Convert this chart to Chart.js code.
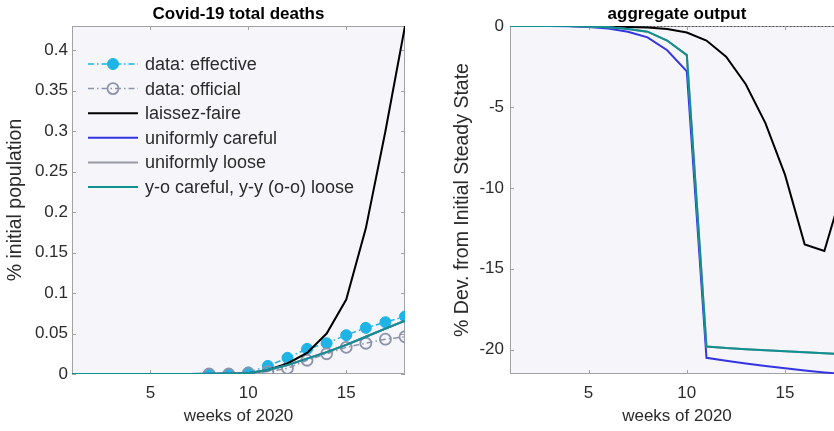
<!DOCTYPE html>
<html>
<head>
<meta charset="utf-8">
<script src="https://cdn.jsdelivr.net/npm/chart.js@4/dist/chart.umd.min.js"></script>
<style>
  html, body { margin: 0; padding: 0; background: #ffffff; overflow: hidden; }
  #wrap { position: relative; width: 834px; height: 431px; overflow: hidden; }
  canvas { position: absolute; top: 0; }
  #deaths { left: 0; }
  #output { left: 420px; }
</style>
</head>
<body>
<div id="wrap">
  <canvas id="deaths" width="420" height="431"></canvas>
  <canvas id="output" width="480" height="431"></canvas>
</div>
<script>
// ---- weeks of 2020 ----
const weeks = [1, 2, 3, 4, 5, 6, 7, 8, 9, 10, 11, 12, 13, 14, 15, 16, 17, 18];
const dataWeeks = [8, 9, 10, 11, 12, 13, 14, 15, 16, 17, 18];

// ---- Covid-19 total deaths, % of initial population ----
const deathsEffective = [0, 0, 0.002, 0.010, 0.020, 0.031, 0.038, 0.048, 0.057, 0.064, 0.071];
const deathsOfficial  = [0, 0, 0.001, 0.003, 0.007, 0.017, 0.025, 0.033, 0.038, 0.043, 0.046];
const deathsLaissezFaire = [0, 0, 0, 0, 0, 0, 0, 0, 0.0003, 0.001, 0.005, 0.013, 0.026, 0.050, 0.092, 0.180, 0.300, 0.430];
const deathsCareful      = [0, 0, 0, 0, 0, 0, 0, 0.0002, 0.0005, 0.001, 0.005, 0.011, 0.019, 0.027, 0.036, 0.046, 0.056, 0.066];
const deathsLoose        = [0, 0, 0, 0, 0, 0, 0, 0.0002, 0.0005, 0.001, 0.005, 0.011, 0.019, 0.027, 0.036, 0.046, 0.056, 0.066];
const deathsYoCareful    = [0, 0, 0, 0, 0, 0, 0, 0.0002, 0.0005, 0.001, 0.005, 0.011, 0.019, 0.027, 0.036, 0.046, 0.056, 0.066];

// ---- aggregate output, % deviation from initial steady state ----
const outputLaissezFaire = [0, 0, 0, 0, -0.01, -0.03, -0.06, -0.1, -0.18, -0.4, -0.9, -1.9, -3.6, -6.0, -9.2, -13.5, -13.9, -9.8];
const outputCareful      = [0, 0, 0, -0.01, -0.06, -0.15, -0.35, -0.7, -1.5, -2.8, -20.5, -20.68, -20.85, -21.0, -21.15, -21.28, -21.4, -21.5];
const outputLoose        = [0, 0, 0, 0, -0.03, -0.08, -0.18, -0.35, -0.9, -1.8, -19.8, -19.9, -19.97, -20.04, -20.1, -20.16, -20.22, -20.28];
const outputYoCareful    = [0, 0, 0, 0, -0.03, -0.08, -0.18, -0.35, -0.9, -1.8, -19.8, -19.9, -19.97, -20.04, -20.1, -20.16, -20.22, -20.28];
const zeroWeeks = [1, 18];
const zeroLine  = [0, 0];

// ---- tick labels ----
const weekTicks = [5, 10, 15];
const deathTicks = [0, 0.05, 0.1, 0.15, 0.2, 0.25, 0.3, 0.35, 0.4];
const outputTicks = [-20, -15, -10, -5, 0];

// ---- styling ----
const FONT = "'Liberation Sans', Arial, Helvetica, sans-serif";
const TEXT = '#2b2b2b';
const C_EFFECTIVE = '#1eb4e6';
const C_OFFICIAL = '#8d93ab';
const C_LAISSEZ = '#000000';
const C_CAREFUL = '#3434e0';
const C_LOOSE = '#9a9aa6';
const C_YO = '#0e9090';
const AXIS = '#a2a2a2';
const PLOT_BG = '#f5f5fa';

const pts = (xs, ys) => xs.map((x, i) => ({ x, y: ys[i] }));

// Plot background, box and inward tick marks (drawn under the data)
const axesBox = {
  id: 'axesBox',
  beforeDatasetsDraw(chart) {
    const { ctx, chartArea: a, scales } = chart;
    ctx.save();
    ctx.fillStyle = PLOT_BG;
    ctx.fillRect(a.left, a.top, a.right - a.left, a.bottom - a.top);
    ctx.strokeStyle = AXIS;
    ctx.lineWidth = 1;
    ctx.strokeRect(a.left + 0.5, a.top + 0.5, a.right - a.left - 1, a.bottom - a.top - 1);
    const len = 4;
    ctx.beginPath();
    scales.x.ticks.forEach(t => {
      const px = Math.round(scales.x.getPixelForValue(t.value)) + 0.5;
      ctx.moveTo(px, a.bottom); ctx.lineTo(px, a.bottom - len);
      ctx.moveTo(px, a.top); ctx.lineTo(px, a.top + len);
    });
    scales.y.ticks.forEach(t => {
      const py = Math.round(scales.y.getPixelForValue(t.value)) + 0.5;
      ctx.moveTo(a.left, py); ctx.lineTo(a.left + len, py);
      ctx.moveTo(a.right, py); ctx.lineTo(a.right - len, py);
    });
    ctx.stroke();
    ctx.restore();
  }
};

// Legend with line + marker samples, inside the upper-left of the plot
const sampleLegend = {
  id: 'sampleLegend',
  afterDatasetsDraw(chart, args, opts) {
    if (!opts.display) return;
    const { ctx, chartArea: a } = chart;
    ctx.save();
    ctx.font = opts.font;
    ctx.textBaseline = 'middle';
    ctx.fillStyle = TEXT;
    let y = a.top + opts.top;
    chart.data.datasets.forEach(ds => {
      if (!ds.label) return;
      const x0 = a.left + opts.left;
      ctx.save();
      ctx.strokeStyle = ds.borderColor;
      ctx.lineWidth = ds.borderWidth;
      ctx.setLineDash(ds.borderDash || []);
      ctx.beginPath();
      ctx.moveTo(x0, y); ctx.lineTo(x0 + opts.sample, y);
      ctx.stroke();
      ctx.setLineDash([]);
      if (ds.pointRadius > 0) {
        ctx.beginPath();
        ctx.arc(x0 + opts.sample / 2, y, ds.pointRadius, 0, Math.PI * 2);
        if (ds.pointBackgroundColor !== 'transparent') {
          ctx.fillStyle = ds.pointBackgroundColor; ctx.fill();
        }
        ctx.strokeStyle = ds.pointBorderColor;
        ctx.lineWidth = ds.pointBorderWidth;
        ctx.stroke();
      }
      ctx.restore();
      ctx.fillText(ds.label, x0 + opts.sample + 7, y + 1);
      y += opts.spacing;
    });
    ctx.restore();
  }
};

function baseOptions(o) {
  return {
    responsive: false,
    animation: false,
    devicePixelRatio: 1,
    layout: { padding: { top: 0, right: o.padRight, bottom: 0, left: 0 } },
    elements: { line: { tension: 0 } },
    plugins: {
      legend: { display: false },
      tooltip: { enabled: false },
      title: {
        display: true, text: o.title, color: '#000', fullSize: false,
        font: { family: FONT, size: 17, weight: 'bold' },
        padding: { top: 4, bottom: 1.6 }
      },
      sampleLegend: o.legend
    },
    scales: {
      x: {
        type: 'linear', min: 1, max: 18,
        grid: { display: false, drawTicks: false },
        border: { display: false },
        afterBuildTicks: s => { s.ticks = weekTicks.map(v => ({ value: v })); },
        afterFit: s => { s.height = 57; },
        ticks: { color: TEXT, padding: 9, font: { family: FONT, size: 17 }, callback: v => String(v) },
        title: { display: true, text: 'weeks of 2020', color: TEXT, font: { family: FONT, size: 17 }, padding: { top: 0, bottom: 4 } }
      },
      y: {
        min: o.yMin, max: o.yMax,
        grid: { display: false, drawTicks: false },
        border: { display: false },
        afterBuildTicks: s => { s.ticks = o.yTicks.map(v => ({ value: v })); },
        afterFit: s => { s.width = o.yWidth; },
        ticks: { color: TEXT, padding: o.tickPad, font: { family: FONT, size: 17 }, callback: v => String(+v.toFixed(2)) },
        title: { display: true, text: o.yTitle, color: TEXT, font: { family: FONT, size: 19.5 }, padding: { top: o.titlePad, bottom: 0 } }
      }
    }
  };
}

new Chart(document.getElementById('deaths'), {
  type: 'line',
  data: {
    datasets: [
      { label: 'data: effective', data: pts(dataWeeks, deathsEffective), borderColor: C_EFFECTIVE, borderWidth: 1.5,
        borderDash: [6, 3, 1.5, 3], pointRadius: 5.5, pointBackgroundColor: C_EFFECTIVE, pointBorderColor: C_EFFECTIVE,
        pointBorderWidth: 1, order: 6 },
      { label: 'data: official', data: pts(dataWeeks, deathsOfficial), borderColor: C_OFFICIAL, borderWidth: 1.5,
        borderDash: [6, 3, 1.5, 3], pointRadius: 5.5, pointBackgroundColor: 'transparent', pointBorderColor: C_OFFICIAL,
        pointBorderWidth: 1.8, order: 5 },
      { label: 'laissez-faire', data: pts(weeks, deathsLaissezFaire), borderColor: C_LAISSEZ, borderWidth: 2, pointRadius: 0, order: 4 },
      { label: 'uniformly careful', data: pts(weeks, deathsCareful), borderColor: C_CAREFUL, borderWidth: 2, pointRadius: 0, order: 3 },
      { label: 'uniformly loose', data: pts(weeks, deathsLoose), borderColor: C_LOOSE, borderWidth: 2, pointRadius: 0, order: 2 },
      { label: 'y-o careful, y-y (o-o) loose', data: pts(weeks, deathsYoCareful), borderColor: C_YO, borderWidth: 2, pointRadius: 0, order: 1 }
    ]
  },
  options: baseOptions({
    title: 'Covid-19 total deaths', padRight: 15, yMin: 0, yMax: 0.43, yTicks: deathTicks,
    yWidth: 72, tickPad: 4, titlePad: 4, yTitle: '% initial population',
    legend: { display: true, font: `18px ${FONT}`, left: 16, top: 38, spacing: 24.6, sample: 50 }
  }),
  plugins: [axesBox, sampleLegend]
});

new Chart(document.getElementById('output'), {
  type: 'line',
  data: {
    datasets: [
      { data: pts(zeroWeeks, zeroLine), borderColor: '#000', borderWidth: 1, borderDash: [1.5, 2], pointRadius: 0, order: 10 },
      { data: pts(weeks, outputLaissezFaire), borderColor: C_LAISSEZ, borderWidth: 2, pointRadius: 0, order: 4 },
      { data: pts(weeks, outputCareful), borderColor: C_CAREFUL, borderWidth: 2, pointRadius: 0, order: 3 },
      { data: pts(weeks, outputLoose), borderColor: C_LOOSE, borderWidth: 2, pointRadius: 0, order: 2 },
      { data: pts(weeks, outputYoCareful), borderColor: C_YO, borderWidth: 2, pointRadius: 0, order: 1 }
    ]
  },
  options: baseOptions({
    title: 'aggregate output', padRight: 56, yMin: -21.5, yMax: 0, yTicks: outputTicks,
    yWidth: 90, tickPad: 6, titlePad: 31, yTitle: '% Dev. from Initial Steady State',
    legend: { display: false }
  }),
  plugins: [axesBox, sampleLegend]
});
</script>
</body>
</html>
